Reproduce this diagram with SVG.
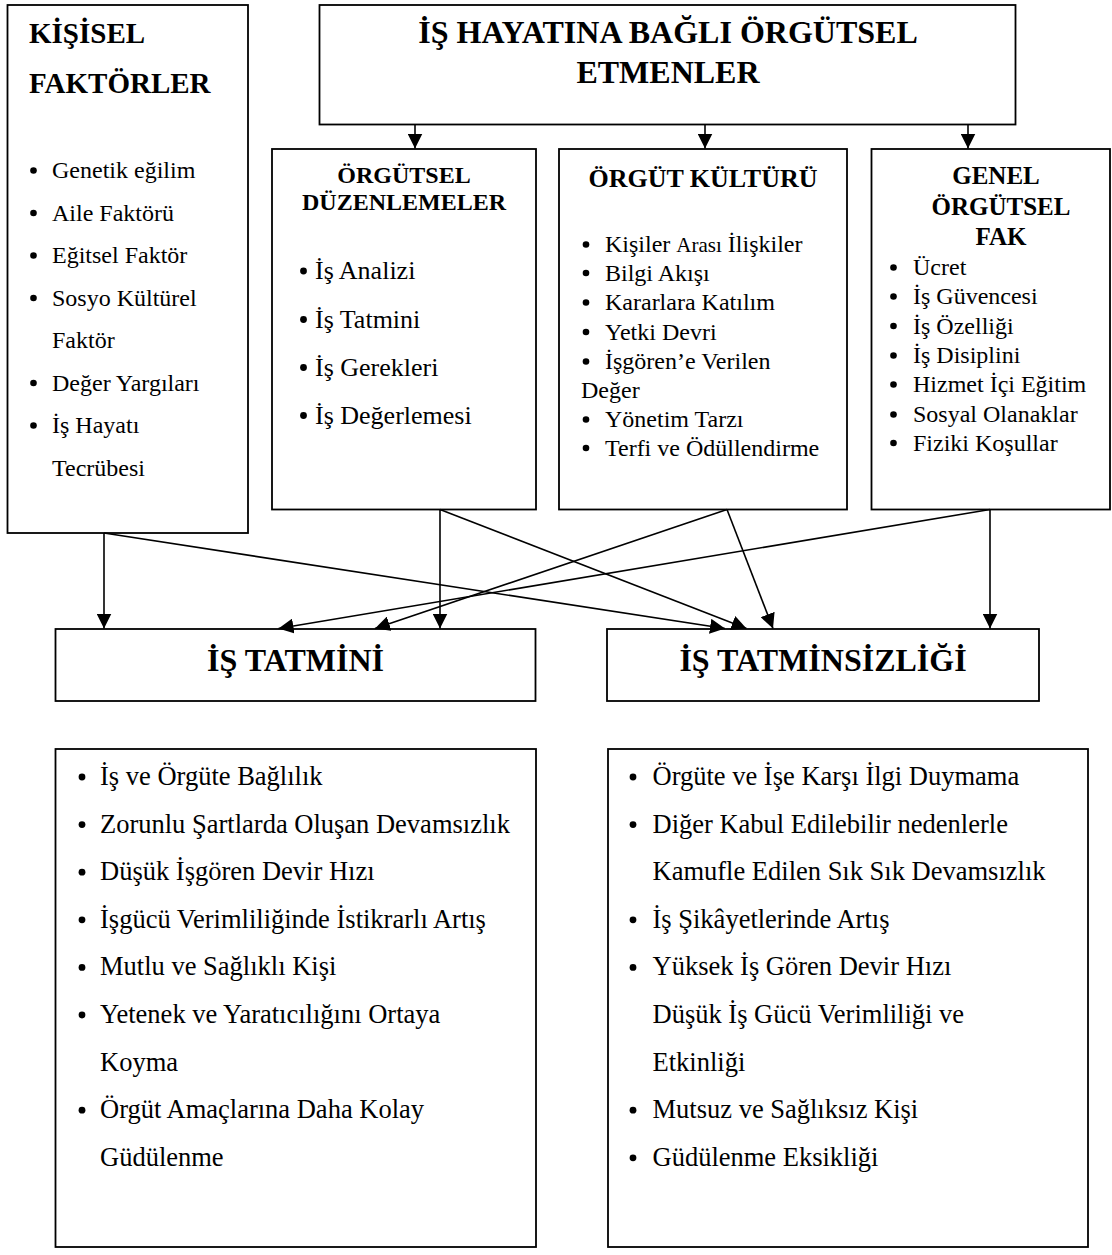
<svg xmlns="http://www.w3.org/2000/svg" width="1112" height="1255" viewBox="0 0 1112 1255">
<style>
.box{fill:#fff;stroke:#000;stroke-width:1.8}
.t{font-family:"Liberation Serif","Times New Roman",serif;fill:#000}
.b{font-weight:bold}
.c{text-anchor:middle}
.dot{fill:#000}
.conn{stroke:#000;stroke-width:1.6;fill:none;marker-end:url(#ah)}
</style>
<defs>
<marker id="ah" viewBox="0 0 15 15" refX="15" refY="7.5" markerWidth="15" markerHeight="15" markerUnits="userSpaceOnUse" orient="auto">
<path d="M0,0 L15,7.5 L0,15 z" fill="#000"/>
</marker>
</defs>
<rect width="1112" height="1255" fill="#fff"/>

<g id="kisisel">
<rect class="box" x="7.5" y="5" width="240.5" height="528"/>
<text class="t b" x="29" y="43" font-size="29">KİŞİSEL</text>
<text class="t b" x="29" y="93" font-size="29">FAKTÖRLER</text>
<g class="t" font-size="24">
<circle class="dot" cx="33.5" cy="170.5" r="3.3"/><text x="52" y="178">Genetik eğilim</text>
<circle class="dot" cx="33.5" cy="213" r="3.3"/><text x="52" y="220.5">Aile Faktörü</text>
<circle class="dot" cx="33.5" cy="255.5" r="3.3"/><text x="52" y="263">Eğitsel Faktör</text>
<circle class="dot" cx="33.5" cy="298" r="3.3"/><text x="52" y="305.5">Sosyo Kültürel</text>
<text x="52" y="348">Faktör</text>
<circle class="dot" cx="33.5" cy="383" r="3.3"/><text x="52" y="390.5">Değer Yargıları</text>
<circle class="dot" cx="33.5" cy="425.5" r="3.3"/><text x="52" y="433">İş Hayatı</text>
<text x="52" y="475.5">Tecrübesi</text>
</g>
</g>

<g id="is-hayati">
<rect class="box" x="319.5" y="5" width="696" height="119.5"/>
<text class="t b c" x="668" y="43" font-size="32">İŞ HAYATINA BAĞLI ÖRGÜTSEL</text>
<text class="t b c" x="668" y="83" font-size="32">ETMENLER</text>
</g>

<g id="orgutsel-duzenlemeler">
<rect class="box" x="272" y="149" width="264" height="360.5"/>
<text class="t b c" x="404" y="183" font-size="24">ÖRGÜTSEL</text>
<text class="t b c" x="404" y="210" font-size="24">DÜZENLEMELER</text>
<g class="t" font-size="26">
<circle class="dot" cx="303.5" cy="271" r="3.4"/><text x="315" y="279">İş Analizi</text>
<circle class="dot" cx="303.5" cy="319.5" r="3.4"/><text x="315" y="327.5">İş Tatmini</text>
<circle class="dot" cx="303.5" cy="367.5" r="3.4"/><text x="315" y="375.5">İş Gerekleri</text>
<circle class="dot" cx="303.5" cy="415.5" r="3.4"/><text x="315" y="423.5">İş Değerlemesi</text>
</g>
</g>

<g id="orgut-kulturu">
<rect class="box" x="559" y="149" width="288" height="360.5"/>
<text class="t b c" x="703" y="187" font-size="26">ÖRGÜT KÜLTÜRÜ</text>
<g class="t" font-size="24">
<circle class="dot" cx="586" cy="244.5" r="3.3"/><text x="605" y="252">Kişiler <tspan font-size="21">Arası</tspan> İlişkiler</text>
<circle class="dot" cx="586" cy="273" r="3.3"/><text x="605" y="280.5">Bilgi Akışı</text>
<circle class="dot" cx="586" cy="302.5" r="3.3"/><text x="605" y="310">Kararlara Katılım</text>
<circle class="dot" cx="586" cy="332" r="3.3"/><text x="605" y="339.5">Yetki Devri</text>
<circle class="dot" cx="586" cy="361.5" r="3.3"/><text x="605" y="369">İşgören’e Verilen</text>
<text x="581" y="397.5">Değer</text>
<circle class="dot" cx="586" cy="419.5" r="3.3"/><text x="605" y="427">Yönetim Tarzı</text>
<circle class="dot" cx="586" cy="448" r="3.3"/><text x="605" y="455.5">Terfi ve Ödüllendirme</text>
</g>
</g>

<g id="genel-orgutsel">
<rect class="box" x="871.5" y="149" width="238.5" height="360.5"/>
<text class="t b c" x="996" y="184" font-size="25">GENEL</text>
<text class="t b c" x="1001" y="214.5" font-size="25">ÖRGÜTSEL</text>
<text class="t b c" x="1001" y="245" font-size="25">FAK</text>
<g class="t" font-size="24">
<circle class="dot" cx="893.5" cy="267.5" r="3.3"/><text x="913" y="275">Ücret</text>
<circle class="dot" cx="893.5" cy="296.5" r="3.3"/><text x="913" y="304">İş Güvencesi</text>
<circle class="dot" cx="893.5" cy="326" r="3.3"/><text x="913" y="333.5">İş Özelliği</text>
<circle class="dot" cx="893.5" cy="355.5" r="3.3"/><text x="913" y="363">İş Disiplini</text>
<circle class="dot" cx="893.5" cy="384.5" r="3.3"/><text x="913" y="392">Hizmet İçi Eğitim</text>
<circle class="dot" cx="893.5" cy="414.5" r="3.3"/><text x="913" y="422">Sosyal Olanaklar</text>
<circle class="dot" cx="893.5" cy="443" r="3.3"/><text x="913" y="450.5">Fiziki Koşullar</text>
</g>
</g>

<g id="is-tatmini">
<rect class="box" x="55.5" y="629" width="480" height="72"/>
<text class="t b c" x="295.5" y="671" font-size="32">İŞ TATMİNİ</text>
</g>

<g id="is-tatminsizligi">
<rect class="box" x="607" y="629" width="432" height="72"/>
<text class="t b c" x="823" y="671" font-size="32">İŞ TATMİNSİZLİĞİ</text>
</g>

<g id="tatmin-sonuclari">
<rect class="box" x="55.5" y="749" width="480.5" height="498"/>
<g class="t" font-size="26.5">
<circle class="dot" cx="82" cy="777" r="3.4"/><text x="100" y="785">İş ve Örgüte Bağlılık</text>
<circle class="dot" cx="82" cy="824.6" r="3.4"/><text x="100" y="832.6">Zorunlu Şartlarda Oluşan Devamsızlık</text>
<circle class="dot" cx="82" cy="872.2" r="3.4"/><text x="100" y="880.2">Düşük İşgören Devir Hızı</text>
<circle class="dot" cx="82" cy="919.8" r="3.4"/><text x="100" y="927.8">İşgücü Verimliliğinde İstikrarlı Artış</text>
<circle class="dot" cx="82" cy="967.4" r="3.4"/><text x="100" y="975.4">Mutlu ve Sağlıklı Kişi</text>
<circle class="dot" cx="82" cy="1015" r="3.4"/><text x="100" y="1023">Yetenek ve Yaratıcılığını Ortaya</text>
<text x="100" y="1070.6">Koyma</text>
<circle class="dot" cx="82" cy="1110.2" r="3.4"/><text x="100" y="1118.2">Örgüt Amaçlarına Daha Kolay</text>
<text x="100" y="1165.8">Güdülenme</text>
</g>
</g>

<g id="tatminsizlik-sonuclari">
<rect class="box" x="608" y="749" width="480" height="498"/>
<g class="t" font-size="26.5">
<circle class="dot" cx="633" cy="777" r="3.4"/><text x="652.5" y="785">Örgüte ve İşe Karşı İlgi Duymama</text>
<circle class="dot" cx="633" cy="824.6" r="3.4"/><text x="652.5" y="832.6">Diğer Kabul Edilebilir nedenlerle</text>
<text x="652.5" y="880.2">Kamufle Edilen Sık Sık Devamsızlık</text>
<circle class="dot" cx="633" cy="919.8" r="3.4"/><text x="652.5" y="927.8">İş Şikâyetlerinde Artış</text>
<circle class="dot" cx="633" cy="967.4" r="3.4"/><text x="652.5" y="975.4">Yüksek İş Gören Devir Hızı</text>
<text x="652.5" y="1023">Düşük İş Gücü Verimliliği ve</text>
<text x="652.5" y="1070.6">Etkinliği</text>
<circle class="dot" cx="633" cy="1110.2" r="3.4"/><text x="652.5" y="1118.2">Mutsuz ve Sağlıksız Kişi</text>
<circle class="dot" cx="633" cy="1157.8" r="3.4"/><text x="652.5" y="1165.8">Güdülenme Eksikliği</text>
</g>
</g>

<g id="connectors">
<path class="conn" d="M415,124.5 V148.5"/>
<path class="conn" d="M705,124.5 V148.5"/>
<path class="conn" d="M968,124.5 V148.5"/>
<path class="conn" d="M104,533 V628.5"/>
<path class="conn" d="M104,533 L725,628.5"/>
<path class="conn" d="M440,509.5 V628.5"/>
<path class="conn" d="M440,509.5 L746.5,628.5"/>
<path class="conn" d="M727,509.5 L375,628.5"/>
<path class="conn" d="M727,509.5 L773,628.5"/>
<path class="conn" d="M990,509.5 L278.5,628.5"/>
<path class="conn" d="M990,509.5 V628.5"/>
</g>
</svg>
